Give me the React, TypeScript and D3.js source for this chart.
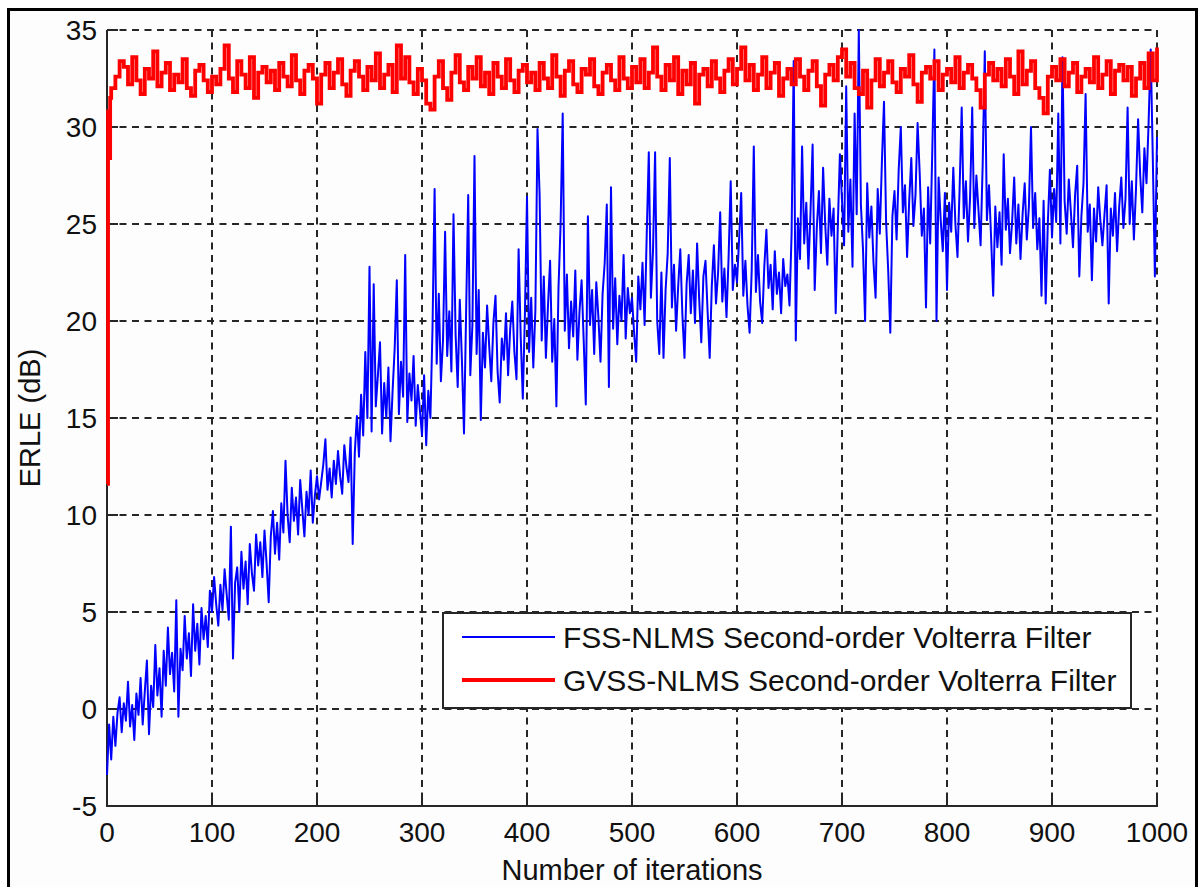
import React from 'react';
import * as d3 from 'd3';

const xTicks = [0, 100, 200, 300, 400, 500, 600, 700, 800, 900, 1000];
const yTicks = [-5, 0, 5, 10, 15, 20, 25, 30, 35];
const xLabel = 'Number of iterations';
const yLabel = 'ERLE (dB)';
const legendLabels = ['FSS-NLMS Second-order Volterra Filter', 'GVSS-NLMS Second-order Volterra Filter'];

// FSS-NLMS: ERLE at iterations 0, 2, 4, ..., 1000
const blueERLE = [
  -3.4, -0.8, -2.6, -0.4, -1.9, -0.2, 0.6, -1.2, 0.3, -0.6, 1.4, -0.9, 0.2, -1.6, 0.8, -0.3, 1.6, -0.8, 0.9, 2.5, -1.3, 1.2, 0.1, 3.3, 0.7,
  2.1, -0.4, 3.0, 1.2, 4.2, 1.8, 2.9, 0.9, 5.6, -0.4, 3.1, 2.0, 4.8, 2.6, 3.9, 1.7, 5.4, 3.0, 4.4, 2.3, 5.2, 3.6, 4.8, 3.2, 6.1,
  5.0, 6.8, 5.4, 4.3, 6.4, 5.1, 7.2, 5.9, 4.6, 9.4, 2.6, 6.5, 7.3, 5.0, 8.1, 6.2, 7.6, 5.4, 8.5, 7.0, 6.1, 9.0, 7.4, 8.6, 6.8,
  9.2, 7.5, 5.5, 8.9, 10.2, 8.0, 9.6, 7.7, 10.6, 9.1, 12.8, 10.0, 8.6, 11.4, 9.7, 10.9, 9.0, 11.8, 10.3, 8.9, 11.2, 10.0, 12.3, 9.6, 11.0,
  12.0, 10.8, 11.7, 12.6, 13.9, 11.3, 12.4, 10.9, 12.8, 11.6, 13.3, 12.0, 11.1, 13.6, 12.5, 11.7, 14.0, 8.5, 13.2, 15.1, 13.0, 16.2, 14.1, 18.4, 15.0,
  22.8, 14.3, 21.9, 15.6, 17.2, 18.9, 14.2, 16.8, 15.0, 17.6, 13.8, 16.4, 18.6, 22.1, 15.2, 17.9, 16.1, 23.4, 14.8, 17.3, 15.9, 18.2, 14.6, 16.7, 15.4,
  14.1, 17.2, 13.6, 16.4, 15.0, 19.6, 26.8, 17.8, 21.4, 16.9, 19.0, 24.6, 18.2, 20.5, 17.4, 25.5, 19.3, 16.6, 21.1, 18.0, 14.2, 20.4, 26.5, 17.2, 19.8,
  28.5, 18.3, 21.6, 14.9, 19.4, 17.6, 20.8, 18.7, 16.9, 19.9, 21.3, 17.4, 15.8, 19.1, 18.0, 20.4, 17.2, 19.6, 21.0, 18.4, 17.0, 23.7, 19.2, 16.0, 20.3,
  26.4, 18.4, 21.2, 17.6, 20.6, 29.9, 26.5, 19.0, 22.3, 18.1, 20.8, 23.1, 17.9, 20.1, 15.6, 21.7, 25.0, 30.7, 19.5, 22.4, 18.6, 21.0, 19.2, 22.6, 18.0,
  20.5, 22.1, 19.0, 15.7, 25.4, 19.8, 21.6, 18.3, 22.0, 20.2, 17.9, 21.4, 23.0, 26.0, 16.6, 26.9, 19.6, 22.2, 18.8, 21.3, 20.0, 23.4, 19.1, 21.7, 20.4,
  21.2, 19.4, 17.9, 22.3, 20.6, 23.0, 19.8, 24.4, 28.7, 21.2, 23.6, 28.7, 20.0, 18.3, 22.5, 18.1, 21.6, 23.5, 28.4, 20.7, 22.9, 19.5, 21.8, 23.7, 20.3,
  18.1, 21.9, 23.4, 20.4, 22.6, 19.9, 24.0, 21.1, 18.9, 22.3, 23.1, 20.5, 18.1, 21.8, 23.9, 20.9, 22.5, 25.6, 21.0, 22.7, 20.2, 23.3, 27.2, 21.6, 22.9,
  22.0, 24.2, 26.6, 21.3, 23.1, 20.8, 19.4, 22.6, 29.0, 21.5, 23.4, 21.0, 19.9, 22.8, 24.7, 21.7, 22.9, 20.6, 23.6, 21.4, 22.5, 20.4, 23.2, 21.8, 22.4,
  20.8, 24.5, 33.4, 19.0, 25.3, 23.2, 29.0, 24.0, 26.1, 22.7, 25.6, 29.1, 21.6, 24.8, 26.7, 23.5, 27.9, 25.0, 22.9, 26.3, 24.4, 25.8, 20.4, 24.9, 28.6,
  26.2, 23.9, 32.1, 24.6, 27.3, 22.8, 30.7, 25.5, 35.0, 26.0, 23.7, 20.0, 27.1, 24.3, 25.9, 23.0, 21.2, 26.8, 24.5, 28.2, 31.3, 25.1, 22.6, 19.4, 25.4,
  26.7, 24.2, 27.8, 30.0, 25.6, 27.0, 23.3, 26.2, 28.4, 24.9, 26.5, 30.2, 27.6, 24.4, 25.8, 20.7, 26.9, 24.0, 28.8, 34.0, 20.0, 27.4, 25.2, 23.6, 26.6,
  21.6, 26.1, 24.6, 27.9, 25.0, 23.3, 26.8, 31.0, 25.3, 27.2, 24.1, 26.4, 31.0, 24.8, 27.5, 25.7, 23.9, 28.1, 33.9, 25.2, 27.0, 24.3, 21.3, 25.9, 23.8,
  25.6, 22.9, 28.6, 24.7, 26.3, 23.5, 25.1, 27.4, 24.0, 26.0, 23.2, 25.5, 27.1, 24.2, 25.9, 30.0, 24.8, 26.6, 23.7, 25.3, 21.3, 26.2, 20.9, 25.0, 27.8,
  24.3, 26.8, 25.1, 30.7, 24.0, 33.6, 26.2, 24.5, 27.3, 25.6, 23.8, 26.5, 28.0, 22.3, 25.4, 27.1, 31.7, 24.6, 26.0, 22.1, 25.8, 24.1, 26.9, 25.2, 23.9,
  25.5, 27.0, 20.9, 25.8, 24.4, 26.6, 23.6, 25.9, 27.4, 24.8, 26.3, 31.0, 25.0, 27.2, 24.2, 26.8, 30.4, 27.5, 25.6, 28.9, 27.1, 30.2, 34.0, 28.4, 22.3,
  29.5,
];

// GVSS-NLMS: ERLE at iterations 0..3, then every 4 iterations from 4 to 1000
const redHead = [11.6, 30.8, 28.4, 31.5];
const redERLE = [
  32.0, 32.6, 33.4, 33.1, 32.2, 33.6, 32.4, 31.7, 33.0, 32.5, 33.9, 32.1, 32.8, 33.3, 31.9, 32.7, 32.3, 33.5, 32.0, 31.6, 32.9, 33.2, 32.4, 31.8, 32.6,
  32.2, 33.0, 34.2, 32.5, 31.8, 33.4, 32.7, 32.0, 33.6, 31.5, 32.8, 33.1, 32.3, 32.9, 31.9, 33.3, 32.6, 32.1, 33.7, 32.4, 31.7, 32.9, 33.2, 32.5, 31.2,
  32.7, 33.3, 32.0, 32.8, 33.5, 32.2, 31.6, 32.9, 33.4, 32.6, 31.9, 33.1, 32.4, 33.8, 32.0, 32.7, 33.2, 31.8, 34.2, 32.5, 33.6, 32.3, 31.7, 33.0, 32.4,
  31.2, 30.9, 32.6, 33.4, 32.0, 31.4, 32.8, 33.7, 32.3, 31.9, 33.1, 32.5, 33.6, 32.1, 32.8, 31.7, 33.3, 32.6, 32.0, 33.5, 32.4, 31.8, 32.9, 33.2, 32.3,
  32.8, 31.9, 33.3, 32.5, 32.0, 33.7, 32.6, 31.6, 32.9, 33.4, 32.2, 31.8, 33.0, 32.7, 33.5, 32.1, 31.7, 32.8, 33.2, 32.4, 31.9, 33.6, 32.5, 32.0, 33.1,
  32.3, 33.5, 32.0, 32.8, 34.1, 32.6, 31.9, 33.2, 32.4, 33.6, 31.7, 32.9, 32.2, 33.3, 31.2, 32.7, 33.0, 32.1, 33.4, 32.5, 31.8, 32.9, 33.5, 32.2, 33.0,
  34.1, 32.4, 33.2, 31.9, 32.7, 33.6, 32.0, 32.8, 33.3, 31.6, 32.5, 33.0, 32.2, 33.5, 32.6, 31.9, 32.9, 33.4, 32.1, 31.1, 32.7, 33.2, 32.4, 33.6, 34.0,
  32.6, 33.3, 32.0, 31.7, 32.9, 31.0, 32.4, 33.5, 32.1, 32.8, 33.4, 32.3, 31.8, 33.0, 32.6, 33.7, 32.2, 31.3, 32.8, 33.1, 32.5, 33.4, 31.9, 32.7, 33.0,
  32.3, 33.6, 32.0, 32.8, 33.2, 32.5, 31.9, 31.0, 32.7, 33.3, 32.4, 33.0, 32.1, 33.5, 32.6, 31.7, 33.9, 32.2, 32.9, 33.4, 32.0, 31.5, 30.7, 32.6, 33.1,
  32.4, 33.5, 32.1, 32.8, 33.3, 31.8, 32.6, 33.0, 32.3, 33.6, 32.0, 32.7, 33.4, 31.7, 32.9, 33.2, 32.4, 33.1, 31.6, 32.5, 33.3, 32.0, 33.8, 32.4, 34.1,
];

const FONT = '"Liberation Sans", Arial, Helvetica, sans-serif';
const INK = '#262626';

export default function App() {
  const W = 1202;
  const H = 887;
  const plot = { left: 107, right: 1157, top: 30, bottom: 806 };
  const x = d3.scaleLinear().domain([0, 1000]).range([plot.left, plot.right]);
  const y = d3.scaleLinear().domain([-5, 35]).range([plot.bottom, plot.top]);

  const bluePts: [number, number][] = blueERLE.map((v, i) => [i * 2, v]);
  const redPts: [number, number][] = [
    ...redHead.map((v, i) => [i, v] as [number, number]),
    ...redERLE.map((v, i) => [4 + 4 * i, v] as [number, number]),
  ];
  const blueLine = d3.line<[number, number]>().x((d) => x(d[0])).y((d) => y(d[1]));
  const redLine = d3.line<[number, number]>().x((d) => x(d[0])).y((d) => y(d[1])).curve(d3.curveStepAfter);

  const leg = { x: 443, y: 613, w: 688, h: 95 };

  return (
    <svg width={W} height={H} style={{ position: 'absolute', left: 0, top: 0, background: '#fff' }}>
      <defs>
        <clipPath id="plotClip">
          <rect x={plot.left - 2} y={plot.top - 2} width={plot.right - plot.left + 4} height={plot.bottom - plot.top + 2} />
        </clipPath>
      </defs>
      <rect x={8.5} y={9.5} width={1188} height={920} fill="#fdfdfd" stroke="#000" strokeWidth={3} />

      {/* grid */}
      {xTicks.filter((t) => t !== 0).map((t) => (
        <line key={'gx' + t} x1={x(t)} x2={x(t)} y1={plot.top} y2={plot.bottom} stroke={INK} strokeWidth={2} strokeDasharray="7,5.5" />
      ))}
      {yTicks.filter((t) => t !== -5).map((t) => (
        <line key={'gy' + t} x1={plot.left} x2={plot.right} y1={y(t)} y2={y(t)} stroke={INK} strokeWidth={2} strokeDasharray="7,5.5" />
      ))}

      {/* axes */}
      <line x1={plot.left} x2={plot.left} y1={plot.top} y2={plot.bottom + 1} stroke={INK} strokeWidth={2} />
      <line x1={plot.left - 1} x2={plot.right + 1} y1={plot.bottom} y2={plot.bottom} stroke={INK} strokeWidth={2} />
      {xTicks.map((t) => (
        <line key={'tx' + t} x1={x(t)} x2={x(t)} y1={plot.bottom} y2={plot.bottom - 11} stroke={INK} strokeWidth={2} />
      ))}
      {yTicks.map((t) => (
        <line key={'ty' + t} x1={plot.left} x2={plot.left + 11} y1={y(t)} y2={y(t)} stroke={INK} strokeWidth={2} />
      ))}

      {/* data */}
      <g clipPath="url(#plotClip)">
        <path d={blueLine(bluePts) || ''} fill="none" stroke="#0000ff" strokeWidth={2} strokeLinejoin="round" />
        <path d={redLine(redPts) || ''} fill="none" stroke="#ff0000" strokeWidth={3.8} strokeLinejoin="miter" />
      </g>

      {/* tick labels */}
      <g fontFamily={FONT} fontSize={28} fill="#111">
        {xTicks.map((t) => (
          <text key={'lx' + t} x={x(t)} y={842} textAnchor="middle">{t}</text>
        ))}
        {yTicks.map((t) => (
          <text key={'ly' + t} x={97} y={y(t) + 10} textAnchor="end">{t}</text>
        ))}
      </g>

      {/* axis labels */}
      <text x={(plot.left + plot.right) / 2} y={880} textAnchor="middle" fontFamily={FONT} fontSize={29} fill="#111">{xLabel}</text>
      <text transform={`translate(40, ${(plot.top + plot.bottom) / 2}) rotate(-90)`} textAnchor="middle" fontFamily={FONT} fontSize={29} fill="#111">{yLabel}</text>

      {/* legend */}
      <rect x={leg.x} y={leg.y} width={leg.w} height={leg.h} fill="#fff" stroke={INK} strokeWidth={2} />
      <line x1={462} x2={555} y1={637} y2={637} stroke="#0000ff" strokeWidth={2} />
      <line x1={462} x2={555} y1={680} y2={680} stroke="#ff0000" strokeWidth={3.8} />
      <g fontFamily={FONT} fontSize={30} fill="#111">
        <text x={563} y={648}>{legendLabels[0]}</text>
        <text x={563} y={691}>{legendLabels[1]}</text>
      </g>
    </svg>
  );
}
